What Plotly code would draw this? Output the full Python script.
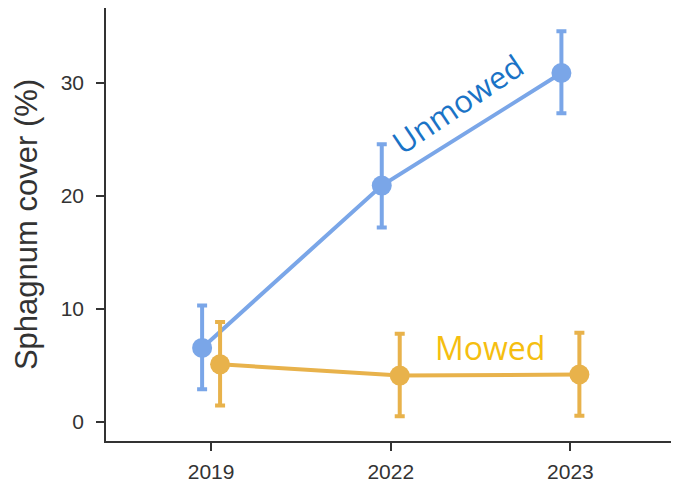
import plotly.graph_objects as go

years = ["2019", "2022", "2023"]
unmowed_mean = [6.55, 20.9, 30.85]
unmowed_hi = [10.3, 24.55, 34.55]
unmowed_lo = [2.9, 17.2, 27.3]
mowed_mean = [5.1, 4.1, 4.2]
mowed_hi = [8.85, 7.8, 7.9]
mowed_lo = [1.45, 0.5, 0.55]

BLUE = "#7aa6e8"
ORANGE = "#e8b24b"
dodge = 0.05
idx = list(range(len(years)))

fig = go.Figure()

def add_series(means, hi, lo, color, off, name):
    xs = [i + off for i in idx]
    fig.add_trace(go.Scatter(
        x=xs, y=means, mode="lines+markers", name=name,
        line=dict(color=color, width=4),
        marker=dict(color=color, size=20),
        error_y=dict(type="data", symmetric=False,
                     array=[h - m for h, m in zip(hi, means)],
                     arrayminus=[m - l for m, l in zip(means, lo)],
                     color=color, thickness=4, width=5),
        showlegend=False,
    ))

add_series(unmowed_mean, unmowed_hi, unmowed_lo, BLUE, -dodge, "Unmowed")
add_series(mowed_mean, mowed_hi, mowed_lo, ORANGE, dodge, "Mowed")

fig.add_annotation(x=1.37, y=28.1, xref="x", yref="y", text="Unmowed",
                   showarrow=False, textangle=-34,
                   font=dict(family="Open Sans, Noto Sans, sans-serif", size=31, color="#1a73c6"))
fig.add_annotation(x=1.555, y=6.6, xref="x", yref="y", text="Mowed",
                   showarrow=False,
                   font=dict(family="Open Sans, Noto Sans, sans-serif", size=32, color="#f5be10"))

# page body has an 8px margin: shrink figure to compensate
fig.update_layout(
    width=671, height=479,
    margin=dict(l=98, r=8, t=0, b=46),
    plot_bgcolor="white", paper_bgcolor="white",
    font=dict(family="Liberation Sans, Arial, sans-serif", color="#333333"),
)
fig.update_xaxes(
    range=[-0.585, 2.56], tickvals=idx, ticktext=years, automargin=False,
    showline=True, linecolor="#333333", linewidth=1.5,
    ticks="outside", ticklen=8, tickwidth=1.5, tickcolor="#333333",
    ticklabelstandoff=3,
    showgrid=False, zeroline=False,
    tickfont=dict(size=21, color="#333333"),
)
fig.update_yaxes(
    range=[-1.68, 36.6], tickvals=[0, 10, 20, 30], automargin=False,
    showline=True, linecolor="#333333", linewidth=1.5,
    ticks="outside", ticklen=8, tickwidth=1.5, tickcolor="#333333",
    ticklabelstandoff=8,
    showgrid=False, zeroline=False,
    tickfont=dict(size=21, color="#333333"),
    title=dict(text="Sphagnum cover (%)", font=dict(size=31, color="#333333"), standoff=14),
)

fig.write_html("out.html")
